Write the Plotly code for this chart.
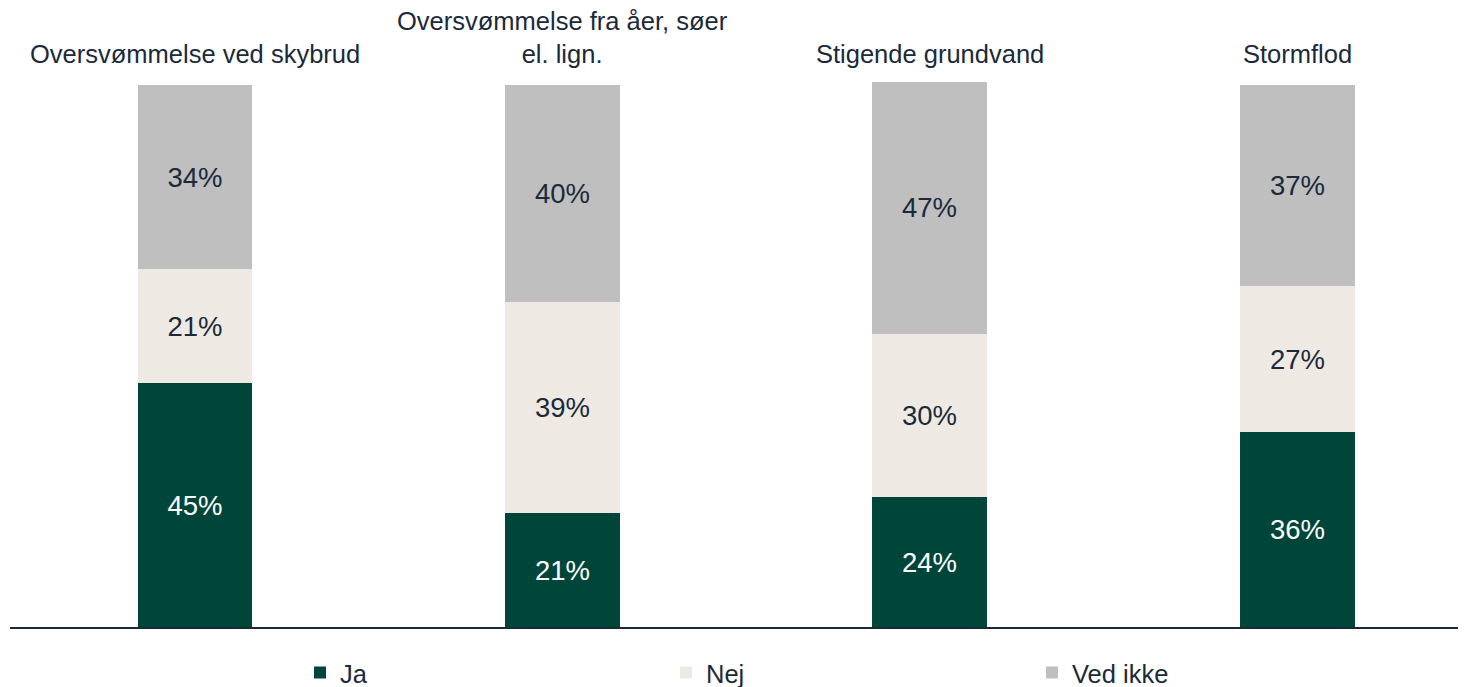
import plotly.graph_objects as go

categories = ["Oversvømmelse ved skybrud", "Oversvømmelse fra åer, søer<br>el. lign.",
              "Stigende grundvand", "Stormflod"]
ja = [45, 21, 24, 36]
nej = [21, 39, 30, 27]
ved_ikke = [34, 40, 47, 37]
series_names = ["Ja", "Nej", "Ved ikke"]

colors = ["#00453a", "#eeeae3", "#bfbfbf"]
text_colors = ["#ffffff", "#1b2a3a", "#1b2a3a"]
FONT = "Liberation Sans, Arial, sans-serif"
DARK = "#1b2a3a"

W, H = 1458, 679  # page body has an 8px margin

xpos = list(range(len(categories)))
fig = go.Figure()
for name, vals, c, tc in zip(series_names, [ja, nej, ved_ikke], colors, text_colors):
    fig.add_trace(go.Bar(
        x=xpos, y=vals, name=name, marker=dict(color=c, line=dict(width=0)),
        width=0.313,
        texttemplate="%{y}%", textposition="inside", insidetextanchor="middle",
        textangle=0, constraintext="none",
        textfont=dict(color=tc, size=27.5, family=FONT),
        hoverinfo="skip",
    ))

for i, cat in enumerate(categories):
    fig.add_annotation(x=i, y=1, xref="x", yref="paper", text=cat,
                       showarrow=False, yanchor="bottom", yshift=12,
                       font=dict(size=25.5, color=DARK, family=FONT))

fig.update_layout(
    width=W, height=H, barmode="stack",
    margin=dict(l=2, r=0, t=74, b=60),
    plot_bgcolor="white", paper_bgcolor="white",
    font=dict(family=FONT, color=DARK, size=25.5),
    xaxis=dict(range=[-0.5036, 3.460], showticklabels=False, ticks="",
               showgrid=False, zeroline=False, showline=True,
               linecolor=DARK, linewidth=2, fixedrange=True),
    yaxis=dict(range=[0, 100.55], visible=False, showgrid=False, fixedrange=True),
    legend=dict(orientation="h", xref="container", yref="container",
                x=292 / W, y=1 - 665 / H, xanchor="left", yanchor="middle",
                entrywidth=321, entrywidthmode="pixels", itemwidth=30,
                font=dict(size=25.5, color=DARK, family=FONT),
                traceorder="normal", bgcolor="rgba(0,0,0,0)"),
    showlegend=True,
    bargap=0,
)

fig.write_html("out.html")
